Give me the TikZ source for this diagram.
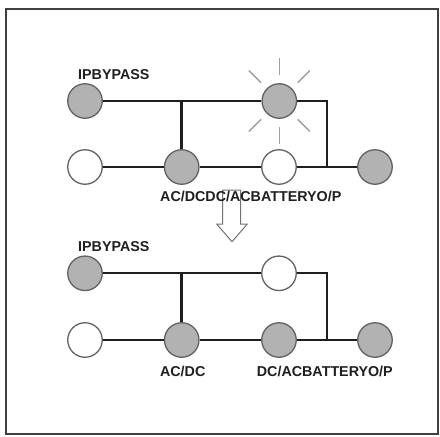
\documentclass[tikz,border=0pt]{standalone}
\usepackage{fontspec}
\setmainfont{Liberation Sans}
\begin{document}
\begin{tikzpicture}[x=1pt,y=-1pt,
  dot/.style={circle,draw=black!62,line width=1.3pt,minimum size=34.5pt,inner sep=0pt},
  on/.style={dot,fill=black!30},
  off/.style={dot,fill=white},
  wire/.style={draw=black!88,line width=1.8pt},
  thick wire/.style={draw=black!88,line width=2.7pt},
  ray/.style={draw=black!38,line width=1.4pt},
  lbl/.style={font=\bfseries\fontsize{14.3}{16}\selectfont,text=black!88,inner sep=0pt},
  frame/.style={draw=black!75,line width=2pt}]
\useasboundingbox (0,0) rectangle (440,437);
\fill[white] (0,0) rectangle (440,437);
\draw[frame] (6,9) rectangle (438,434);

% ---------- upper diagram ----------
\node[on]  (ua) at (85,101) {};
\node[on]  (ub) at (279.3,101) {};
\node[off] (uc) at (85,167) {};
\node[on]  (ud) at (181.7,167) {};
\node[off] (ue) at (279,167) {};
\node[on]  (uf) at (375,167) {};
\coordinate (uj1) at (181.7,101);
\coordinate (uj2) at (327,101);
\coordinate (uj3) at (327,167);
\path[wire] (ua) -- (uj1) -- (ub);
\path[wire] (ub) -- (uj2) -- (uj3);
\path[thick wire] (uj1) -- (ud);
\path[wire] (uc) -- (ud) -- (ue) -- (uj3) -- (uf);
\foreach \a in {90,45,135,225,270,315}
  \draw[ray] (ub.center) ++(\a:26) -- ++(\a:17);

% hollow arrow
\draw[draw=black!55,fill=white,line width=1pt,line join=miter]
  (222.7,190) -- (240.7,190) -- (240.7,224) -- (247.3,224) -- (232,241.7)
  -- (216.7,224) -- (222.7,224) -- cycle;

\node[lbl,anchor=west] (uip) at (78,75) {IPBYPASS};
\node[lbl,anchor=west] (ulab) at (160,196.7) {AC/DCDC/ACBATTERYO/P};

% ---------- lower diagram ----------
\node[on]  (la) at (85,273.3) {};
\node[off] (lb) at (279,273.3) {};
\node[off] (lc) at (85,340) {};
\node[on]  (ld) at (181.7,340) {};
\node[on]  (le) at (279,340) {};
\node[on]  (lf) at (375,340) {};
\coordinate (lj1) at (181.7,273.3);
\coordinate (lj2) at (327,273.3);
\coordinate (lj3) at (327,340);
\path[wire] (la) -- (lj1) -- (lb);
\path[wire] (lb) -- (lj2) -- (lj3);
\path[thick wire] (lj1) -- (ld);
\path[thick wire] (lc) -- (ld) -- (le) -- (lj3) -- (lf);

\node[lbl,anchor=west] (lip) at (78,246.7) {IPBYPASS};
\node[lbl] (lacdc) at (182.7,371.7) {AC/DC};
\node[lbl,anchor=west] (ldcac) at (256.7,371.7) {DC/ACBATTERYO/P};
\end{tikzpicture}
\end{document}
